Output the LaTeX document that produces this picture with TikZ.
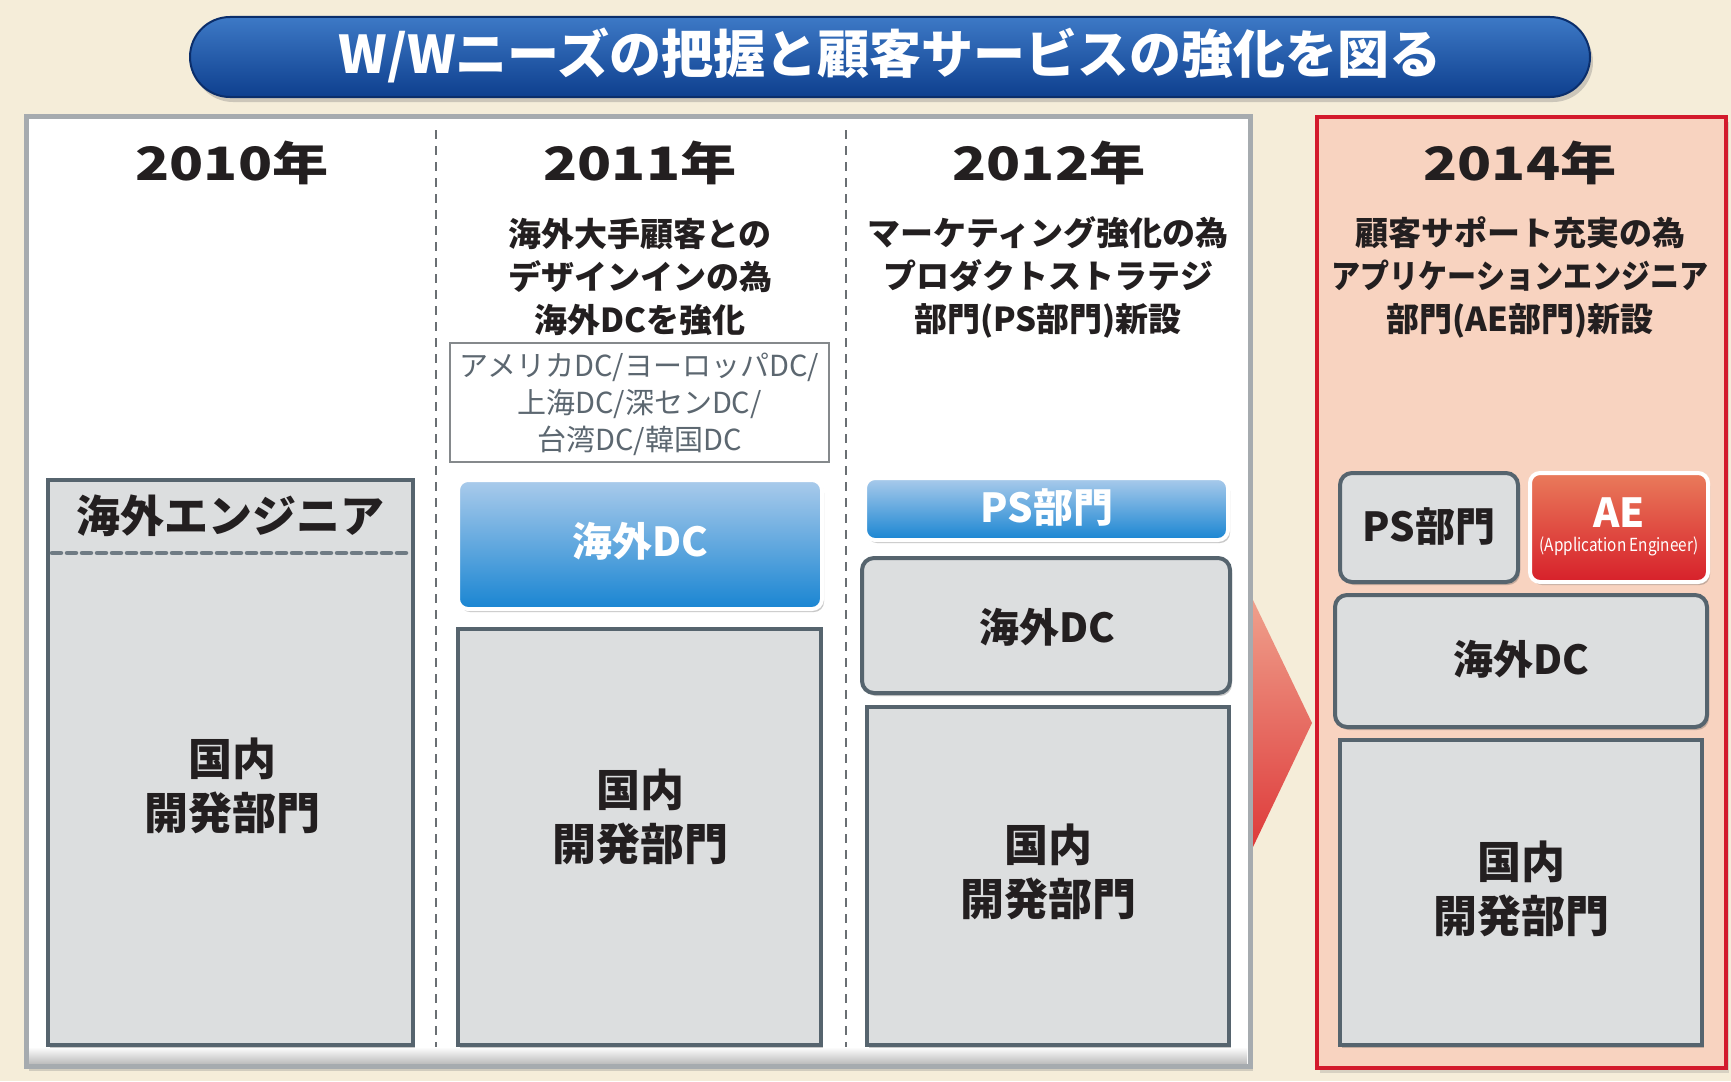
\documentclass[tikz,border=0pt]{standalone}
\usepackage{graphicx}
\usepackage{fontspec}
\newfontfamily\jp{Noto Sans CJK JP}
\newfontfamily\jpb{Noto Sans CJK JP Black}
\usetikzlibrary{shadows}
\definecolor{bg}{HTML}{F5EDD9}
\definecolor{panelline}{HTML}{A6ABAF}
\definecolor{boxfill}{HTML}{DCDEDF}
\definecolor{boxline}{HTML}{56646E}
\definecolor{txt}{HTML}{231F20}
\definecolor{infotxt}{HTML}{5C6770}
\definecolor{blueTop}{HTML}{AACBEB}
\definecolor{blueBot}{HTML}{1985D2}
\definecolor{redfill}{HTML}{F8D3C0}
\definecolor{redline}{HTML}{D31A2C}
\definecolor{aeTop}{HTML}{E97B5B}
\definecolor{aeBot}{HTML}{D7202A}
\definecolor{pillTop}{HTML}{3D79C6}
\definecolor{pillBot}{HTML}{0E3F8E}
\definecolor{pillLine}{HTML}{0B2E6B}
\definecolor{arrTop}{HTML}{EFA08C}
\definecolor{arrBot}{HTML}{DE3A3A}
\definecolor{sepline}{HTML}{6A6F73}
\tikzset{
  every node/.style={font=\jp, inner sep=0pt, outer sep=0pt},
  softshadow/.style={drop shadow={shadow xshift=2pt, shadow yshift=-3pt, opacity=0.3, fill=black!70}},
  greybox/.style={draw=boxline, fill=boxfill, line width=4pt, softshadow},
  rgreybox/.style={greybox, rounded corners=12pt},
  bluebox/.style={draw=white, line width=4pt, rounded corners=10pt, top color=blueTop, bottom color=blueBot, softshadow},
  aebox/.style={draw=white, line width=4pt, rounded corners=10pt, top color=aeTop, bottom color=aeBot, softshadow},
  infobox/.style={draw=panelline!80!black, fill=white, line width=1.2pt},
  yeartxt/.style={text=txt, font=\jpb\fontsize{46}{50}\selectfont},
  headtxt/.style={text=txt, align=center, font=\jpb\fontsize{33}{43}\selectfont},
  boxtxt/.style={text=txt, align=center, font=\jpb\fontsize{44}{54}\selectfont},
  midtxt/.style={text=txt, font=\jpb\fontsize{40}{44}\selectfont},
  whitetxt/.style={text=white, font=\jpb\fontsize{40}{44}\selectfont},
  sepstyle/.style={draw=sepline, line width=1.6pt, dash pattern=on 9pt off 7pt},
}
\begin{document}
\begin{tikzpicture}[x=1pt,y=-1pt]
\useasboundingbox (0,0) rectangle (1731,1081);
\fill[bg] (0,0) rectangle (1731,1081);

% title pill
\node[draw=pillLine, line width=2pt, rounded corners=40pt, top color=pillTop, bottom color=pillBot, minimum width=1400, minimum height=80, drop shadow={shadow xshift=3pt, shadow yshift=-5pt, opacity=0.35}] (pill) at (890,57) {};
\node[text=white, font=\jpb\fontsize{52}{56}\selectfont] (title) at (890,55) {W/Wニーズの把握と顧客サービスの強化を図る};

% panels
\node[draw=panelline, line width=5pt, fill=white, minimum width=1224, minimum height=950, drop shadow={shadow xshift=3pt, shadow yshift=-5pt, opacity=0.3}] (leftpanel) at (638,591) {};
\shade[top color=white, bottom color=black!25] (29,1047) rectangle (1247,1063);
\node[draw=redline, line width=4pt, fill=redfill, minimum width=409, minimum height=951, drop shadow={shadow xshift=3pt, shadow yshift=-5pt, opacity=0.25}] (rightpanel) at (1521.5,592.5) {};

% arrow
\shade[top color=arrTop, bottom color=arrBot] (1253,600) -- (1312,723) -- (1253,847) -- cycle;

% separators
\coordinate (s1a) at (436,130); \coordinate (s1b) at (436,1047);
\coordinate (s2a) at (846,130); \coordinate (s2b) at (846,1047);
\draw[sepstyle] (s1a) -- (s1b);
\draw[sepstyle] (s2a) -- (s2b);

% years
\node[yeartxt] (y2010) at (232,163) {\scalebox{1.22}[1]{2010年}};
\node[yeartxt] (y2011) at (640,163) {\scalebox{1.22}[1]{2011年}};
\node[yeartxt] (y2012) at (1049,163) {\scalebox{1.22}[1]{2012年}};
\node[yeartxt] (y2014) at (1520,163) {\scalebox{1.22}[1]{2014年}};

% headings
\node[headtxt] (h2011) at (640,277) {海外大手顧客との\\デザインインの為\\海外DCを強化};
\node[headtxt] (h2012) at (1048,277) {マーケティング強化の為\\プロダクトストラテジ\\部門(PS部門)新設};
\node[headtxt] (h2014) at (1520,277) {顧客サポート充実の為\\\scalebox{0.88}[1]{アプリケーションエンジニア}\\部門(AE部門)新設};

% column 2010
\node[greybox, minimum width=365, minimum height=565] (c1box) at (230.5,762.5) {};
\coordinate (d1a) at (52,553); \coordinate (d1b) at (409,553);
\draw[draw=boxline!85, line width=4.5pt, line cap=round, dash pattern=on 9pt off 6pt] (d1a) -- (d1b);
\node[boxtxt] (c1eng) at (230,516) {海外エンジニア};
\node[boxtxt] (c1dom) at (232,786) {国内\\開発部門};

% column 2011
\node[infobox, minimum width=379, minimum height=119] (c2info) at (639.5,402.5) {};
\node[text=infotxt, align=center, font=\jp\fontsize{29}{37}\selectfont] (c2infotxt) at (639.5,404) {アメリカDC/ヨーロッパDC/\\上海DC/深センDC/\\台湾DC/韓国DC};
\node[bluebox, minimum width=364, minimum height=129] (c2dc) at (640,544.5) {};
\node[whitetxt] (c2dctxt) at (640,541) {海外DC};
\node[greybox, minimum width=363, minimum height=416] (c2dom) at (639.5,837) {};
\node[boxtxt] (c2domtxt) at (640,817) {国内\\開発部門};

% column 2012
\node[bluebox, minimum width=363, minimum height=62] (c3ps) at (1046.5,509) {};
\node[whitetxt] (c3pstxt) at (1047,507) {PS部門};
\node[rgreybox, minimum width=368, minimum height=135] (c3dc) at (1046,625.5) {};
\node[midtxt] (c3dctxt) at (1047,627) {海外DC};
\node[greybox, minimum width=362, minimum height=338] (c3dom) at (1048,876) {};
\node[boxtxt] (c3domtxt) at (1048,872) {国内\\開発部門};

% column 2014
\node[rgreybox, minimum width=178, minimum height=109] (c4ps) at (1429,527.5) {};
\node[midtxt] (c4pstxt) at (1429,526) {PS部門};
\node[aebox, minimum width=178, minimum height=109] (c4ae) at (1619,527.5) {};
\node[whitetxt] (c4aetxt) at (1619,513) {AE};
\node[text=white, font=\jp\fontsize{18}{20}\selectfont] (c4aesub) at (1619,546) {\scalebox{0.85}[1]{(Application Engineer)}};
\node[rgreybox, minimum width=372, minimum height=132] (c4dc) at (1521,661) {};
\node[midtxt] (c4dctxt) at (1521,659) {海外DC};
\node[greybox, minimum width=362, minimum height=305] (c4dom) at (1521,892.5) {};
\node[boxtxt] (c4domtxt) at (1521,889) {国内\\開発部門};
\end{tikzpicture}
\end{document}
